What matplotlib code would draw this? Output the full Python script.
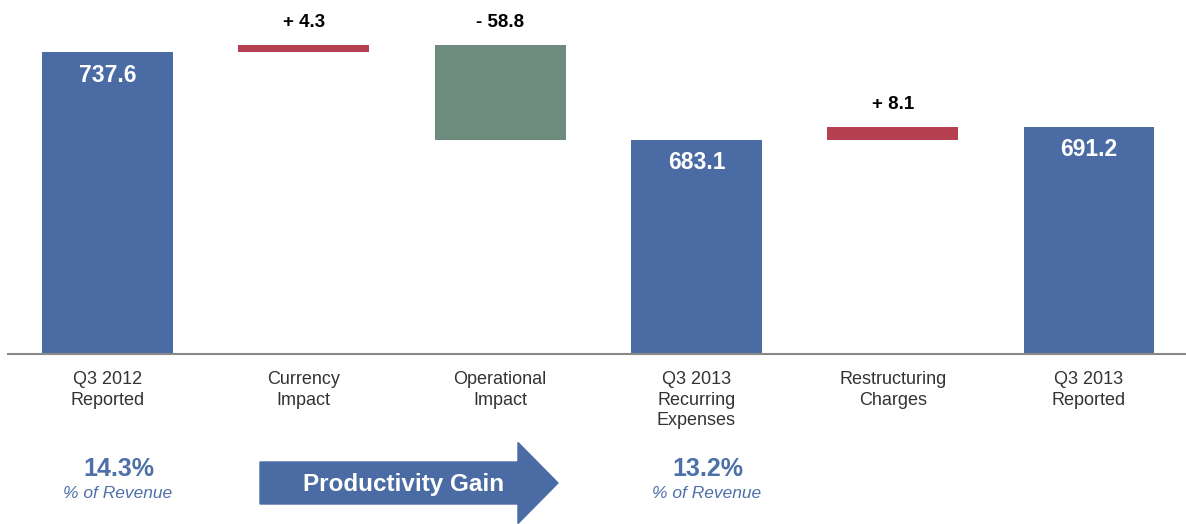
import numpy as np
import matplotlib
matplotlib.use("Agg")
import matplotlib.pyplot as plt
import matplotlib.patches as mpatches
from matplotlib.transforms import blended_transform_factory

plt.rcParams['font.family'] = ['Liberation Sans', 'DejaVu Sans']

# data
categories = ['Q3 2012\nReported', 'Currency\nImpact', 'Operational\nImpact',
              'Q3 2013\nRecurring\nExpenses', 'Restructuring\nCharges', 'Q3 2013\nReported']
kinds = ['total', 'delta', 'delta', 'total', 'delta', 'total']
values = [737.6, 4.3, -58.8, 683.1, 8.1, 691.2]
delta_labels = ['', '+ 4.3', '- 58.8', '', '+ 8.1', '']
pct_positions = [0, 3]
pct_values = ['14.3%', '13.2%']

blue = '#4A6BA3'
red = '#B5404F'
green = '#6E8C7E'
pct_blue = '#4D70A8'

fig = plt.figure(figsize=(11.86, 5.24), dpi=100)
ax = fig.add_axes([8 / 1186, 170 / 524, 1 - 8 / 1186, 354 / 524])

x = np.arange(len(categories))
bw = 0.667
running = 0
for i, (k, v) in enumerate(zip(kinds, values)):
    if k == 'total':
        ax.bar(x[i], v - 550, bottom=550, width=bw, color=blue)
        ax.text(x[i], v - 7, f'{v:.1f}', ha='center', va='top', color='white',
                fontsize=16.5, fontweight='bold')
        running = v
    else:
        if v >= 0:
            c = red
            lo = running
        else:
            c = green
            lo = running + v
        ax.bar(x[i], abs(v), bottom=lo, width=bw, color=c)
        ax.text(x[i], lo + abs(v) + 9, delta_labels[i], ha='center', va='bottom',
                color='black', fontsize=13.5, fontweight='bold')
        running = running + v

ax.set_xlim(-0.507, 5.494)
ax.set_ylim(550.4, 770)
for s in ['top', 'left', 'right']:
    ax.spines[s].set_visible(False)
ax.spines['bottom'].set_color('#888888')
ax.spines['bottom'].set_linewidth(1.5)
ax.set_yticks([])
ax.set_xticks(x)
ax.set_xticklabels(categories, fontsize=13, color='#333333', linespacing=1.3)
ax.tick_params(axis='x', length=0, pad=12)

# % of revenue notes
tr = blended_transform_factory(ax.transData, fig.transFigure)
for p, t in zip(pct_positions, pct_values):
    ax.text(x[p] + 0.06, 1 - 469 / 524, t, transform=tr, ha='center', va='center',
            color=pct_blue, fontsize=18, fontweight='bold')
    ax.text(x[p] + 0.05, 1 - 494 / 524, '% of Revenue', transform=tr, ha='center', va='center',
            color=pct_blue, fontsize=12.5, fontstyle='italic')

# productivity arrow
arr = mpatches.FancyArrow(260 / 1186, 1 - 483 / 524, (558 - 260) / 1186, 0,
                          width=42 / 524, head_width=81 / 524, head_length=40 / 1186,
                          length_includes_head=True, color=blue, transform=fig.transFigure)
fig.patches.append(arr)
fig.text(404 / 1186, 1 - 484 / 524, 'Productivity Gain', ha='center', va='center',
         color='white', fontsize=17.5, fontweight='bold')

fig.savefig('out.png', dpi=100)
